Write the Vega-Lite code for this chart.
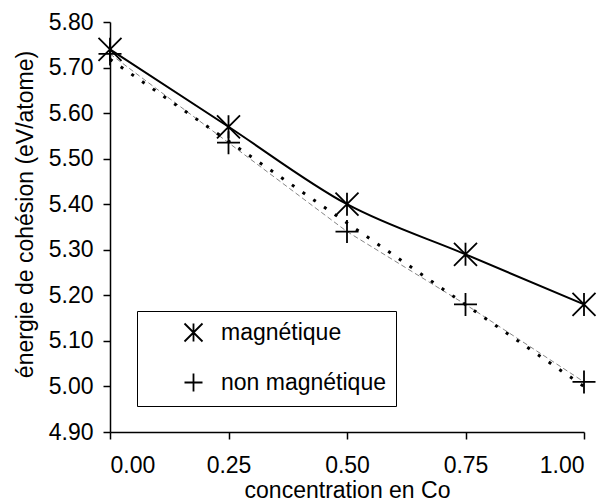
{
  "$schema": "https://vega.github.io/schema/vega-lite/v6.json",
  "width": 474,
  "height": 410,
  "autosize": {"type": "none"},
  "padding": {"left": 110, "top": 22, "right": 23, "bottom": 71},
  "background": "white",
  "config": {
    "font": "Liberation Sans",
    "view": {"stroke": null},
    "axis": {
      "grid": false,
      "domainColor": "black",
      "domainWidth": 1.5,
      "tickColor": "black",
      "tickWidth": 1.5,
      "tickSize": 7,
      "labelFont": "Liberation Sans",
      "labelFontSize": 23,
      "labelColor": "black",
      "titleFont": "Liberation Sans",
      "titleFontSize": 23,
      "titleFontWeight": "normal",
      "titleColor": "black"
    }
  },
  "data": {
    "values": [
      {"concentration": 0.0, "energie": 5.74, "serie": "magnétique"},
      {"concentration": 0.25, "energie": 5.57, "serie": "magnétique"},
      {"concentration": 0.5, "energie": 5.40, "serie": "magnétique"},
      {"concentration": 0.75, "energie": 5.29, "serie": "magnétique"},
      {"concentration": 1.0, "energie": 5.18, "serie": "magnétique"},
      {"concentration": 0.0, "energie": 5.73, "serie": "non magnétique"},
      {"concentration": 0.25, "energie": 5.535, "serie": "non magnétique"},
      {"concentration": 0.5, "energie": 5.34, "serie": "non magnétique"},
      {"concentration": 0.75, "energie": 5.18, "serie": "non magnétique"},
      {"concentration": 1.0, "energie": 5.01, "serie": "non magnétique"}
    ]
  },
  "encoding": {
    "x": {
      "field": "concentration",
      "type": "quantitative",
      "scale": {"domain": [0, 1], "nice": false, "zero": false},
      "axis": {
        "values": [0, 0.25, 0.5, 0.75, 1],
        "format": ".2f",
        "title": "concentration en Co",
        "labelPadding": 15,
        "titlePadding": 2
      }
    },
    "y": {
      "field": "energie",
      "type": "quantitative",
      "scale": {"domain": [4.9, 5.8], "nice": false, "zero": false},
      "axis": {
        "values": [4.9, 5.0, 5.1, 5.2, 5.3, 5.4, 5.5, 5.6, 5.7, 5.8],
        "format": ".2f",
        "title": "énergie de cohésion (eV/atome)",
        "labelPadding": 10,
        "titleBaseline": "alphabetic",
        "titleX": -78,
        "titleY": 192
      }
    }
  },
  "layer": [
    {
      "transform": [{"filter": "datum.serie == 'non magnétique'"}],
      "mark": {"type": "line", "color": "#666666", "strokeWidth": 0.8, "strokeDash": [5, 3]}
    },
    {
      "transform": [
        {"filter": "datum.serie == 'non magnétique'"},
        {"regression": "energie", "on": "concentration"}
      ],
      "mark": {"type": "line", "color": "black", "strokeWidth": 3, "strokeDash": [3, 10]}
    },
    {
      "transform": [{"filter": "datum.serie == 'magnétique'"}],
      "mark": {"type": "line", "color": "black", "strokeWidth": 2, "interpolate": "monotone"}
    },
    {
      "mark": {"type": "point", "filled": false, "color": "black", "strokeWidth": 1.8, "size": 529, "opacity": 1},
      "encoding": {
        "shape": {
          "field": "serie",
          "type": "nominal",
          "scale": {
            "domain": ["magnétique", "non magnétique"],
            "range": ["M-1,-1L1,1M-1,1L1,-1M0,-1L0,1", "M-1,0L1,0M0,-1L0,1"]
          },
          "legend": {
            "orient": "none",
            "legendX": 27,
            "legendY": 289,
            "title": null,
            "strokeColor": "black",
            "fillColor": "white",
            "padding": 10,
            "symbolSize": 324,
            "symbolStrokeWidth": 1.8,
            "symbolStrokeColor": "black",
            "symbolFillColor": "transparent",
            "symbolOffset": 35,
            "labelOffset": 16,
            "labelLimit": 400,
            "labelFont": "Liberation Sans",
            "labelFontSize": 23,
            "labelColor": "black",
            "rowPadding": 23
          }
        }
      }
    }
  ]
}
